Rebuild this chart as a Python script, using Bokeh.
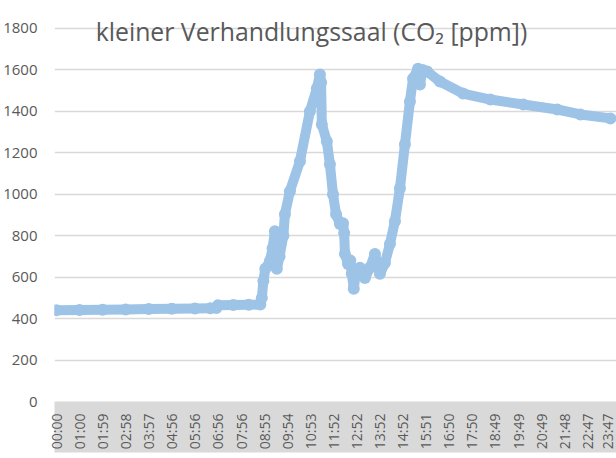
from bokeh.plotting import figure
from bokeh.models import Label, FixedTicker
from bokeh.embed import file_html
from bokeh.resources import INLINE
from math import pi

# sample number (one per minute) and CO2 reading
minute = [0, 60, 120, 180, 240, 300, 360, 400, 416, 420, 460, 500, 530,
          534, 538, 543, 555, 562, 568, 573, 580, 590, 594, 607, 633, 659, 677, 685,
          688, 690, 703, 711, 719, 727, 737, 745, 748, 750, 758, 764, 768, 773,
          779, 789, 802, 815, 828, 841, 854, 867, 880, 893, 906, 919, 927, 940,
          945, 952, 964, 997, 1057, 1128, 1214, 1302, 1362, 1440]
co2 = [440, 441, 443, 444, 446, 447, 449, 450, 451, 465, 466, 467, 468,
       500, 582, 640, 678, 740, 822, 640, 700, 800, 904, 1015, 1159, 1400, 1510, 1578,
       1540, 1337, 1255, 1145, 1000, 904, 856, 860, 813, 712, 664, 680, 616, 544,
       630, 645, 596, 645, 712, 616, 668, 760, 870, 1029, 1241, 1448, 1558, 1606,
       1530, 1600, 1592, 1544, 1486, 1457, 1433, 1409, 1385, 1366]

tick_pos = list(range(0, 1441, 60))
tick_labels = ["00:00", "01:00", "01:59", "02:58", "03:57", "04:56", "05:56",
               "06:56", "07:56", "08:55", "09:54", "10:53", "11:52", "12:52",
               "13:52", "14:52", "15:51", "16:50", "17:50", "18:49", "19:49",
               "20:49", "21:48", "22:47", "23:47"]

title = "kleiner Verhandlungssaal (CO\u2082 [ppm])"

# headroom above 1800 so the title is not clipped by the frame
p = figure(width=616, height=458, output_backend="svg", toolbar_location=None,
           x_range=(-5, 1456), y_range=(0, 1906),
           min_border_top=6, min_border_left=54, min_border_right=0, min_border_bottom=57)
p.outline_line_color = None
p.background_fill_color = "white"
p.border_fill_color = "white"

blue = "#9dc3e6"
p.line(minute, co2, line_color=blue, line_width=10, line_join="round", line_cap="round")
p.scatter(minute, co2, size=12, fill_color=blue, line_color=None)

p.xgrid.grid_line_color = None
p.ygrid.grid_line_color = "#d9d9d9"
p.ygrid.grid_line_width = 1.5
p.yaxis.ticker = FixedTicker(ticks=list(range(0, 1801, 200)))
p.xaxis.ticker = FixedTicker(ticks=tick_pos)
p.xaxis.major_label_overrides = dict(zip(tick_pos, tick_labels))
p.xaxis.major_label_orientation = pi / 2

for ax in (p.xaxis, p.yaxis):
    ax.axis_line_color = None
    ax.major_tick_line_color = None
    ax.minor_tick_line_color = None
    ax.major_tick_out = 0
    ax.major_tick_in = 0
    ax.minor_tick_out = 0
    ax.major_label_text_color = "#595959"
    ax.major_label_text_font = "Open Sans"

p.xaxis.major_label_standoff = 12
p.xaxis.major_label_text_font_size = "14px"
p.yaxis.major_label_standoff = 17
p.yaxis.major_label_text_font_size = "15px"
p.xaxis.background_fill_color = "#d9d9d9"

p.add_layout(Label(x=663, y=1790, text=title, text_align="center",
                   text_baseline="middle", text_color="#595959",
                   text_font="Open Sans", text_font_size="24.8px"))

open("out.html", "w").write(file_html(p, INLINE))
